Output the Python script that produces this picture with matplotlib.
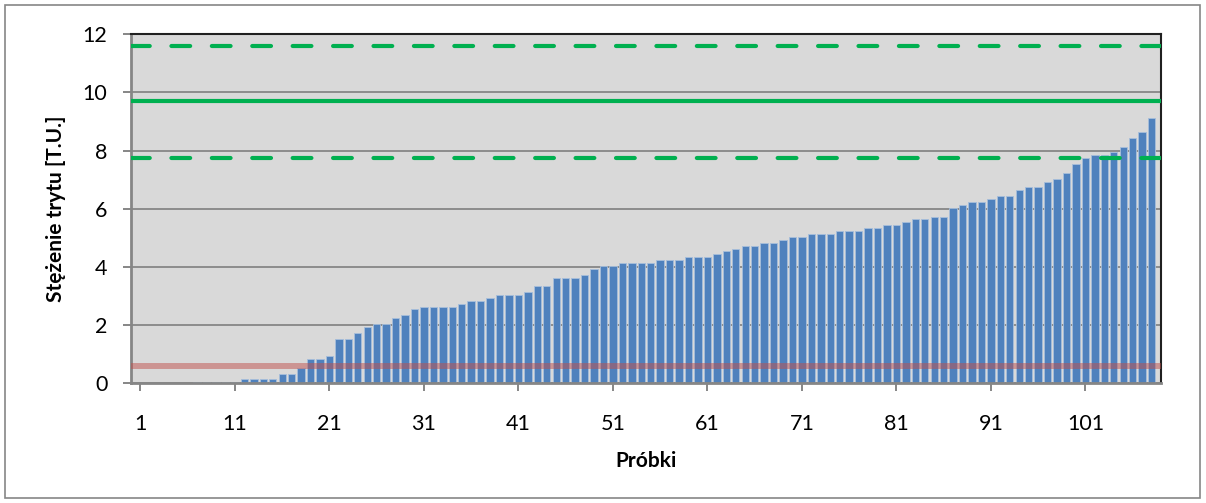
import numpy as np
import matplotlib.pyplot as plt
from matplotlib.patches import Rectangle

# tritium concentration per sample (sorted)
values = ([0.0] * 6 + [0.05] * 5 + [0.15] * 4 + [0.33] * 2 + [0.54] + [0.83] * 2 + [0.93]
          + [1.54] * 2 + [1.74, 1.94] + [2.04] * 2 + [2.24, 2.34, 2.54] + [2.64] * 4 + [2.74]
          + [2.84] * 2 + [2.94] + [3.04] * 3 + [3.14] + [3.33] * 2 + [3.63] * 3 + [3.73, 3.93]
          + [4.03] * 2 + [4.14] * 4 + [4.23] * 3 + [4.33] * 3 + [4.43, 4.54, 4.63]
          + [4.73] * 2 + [4.84] * 2 + [4.93] + [5.03] * 2 + [5.13] * 3 + [5.23] * 3
          + [5.33] * 2 + [5.43] * 2 + [5.54] + [5.64] * 2 + [5.73] * 2 + [6.04, 6.13]
          + [6.23] * 2 + [6.34] + [6.43] * 2 + [6.64] + [6.74] * 2 + [6.93, 7.03, 7.24, 7.54, 7.74]
          + [7.84] * 2 + [7.94, 8.14, 8.44, 8.64, 9.13])
samples = np.arange(1, len(values) + 1)

mean_level = 9.72
upper_level = 11.6
lower_level = 7.75
detection_limit = 0.58

x_ticks = list(range(1, 102, 10))
y_ticks = [0, 2, 4, 6, 8, 10, 12]

plt.rcParams['font.family'] = ['Lato', 'DejaVu Sans']
plt.rcParams['lines.scale_dashes'] = False

fig = plt.figure(figsize=(12.06, 5.03), dpi=100)
fig.patches.append(Rectangle((0.004, 0.01), 0.991, 0.98, transform=fig.transFigure,
                             fill=False, edgecolor='#868686', linewidth=1.2))

ax = fig.add_axes([131 / 1206, 1 - 383.3 / 503, 1030 / 1206, 349 / 503])
ax.set_facecolor('#D9D9D9')

ax.bar(samples, values, width=0.78, color='#4F81BD', edgecolor='#A7BEDB', linewidth=0.6, zorder=2)

ax.axhline(mean_level, color='#00B050', linewidth=3, zorder=3)
for lvl in (upper_level, lower_level):
    ax.axhline(lvl, color='#00B050', linewidth=3, linestyle=(0, (13.5, 15.6)),
               dash_capstyle='round', zorder=3)
ax.axhline(detection_limit, color='#C0504D', alpha=0.5, linewidth=4.3, zorder=4)

ax.set_xlim(0, 109)
ax.set_ylim(0, 12)
ax.set_xticks(x_ticks)
ax.set_yticks(y_ticks)
ax.yaxis.grid(True, color='#868686', linewidth=1.3, zorder=0)
ax.set_axisbelow(True)

for side in ('left', 'bottom'):
    ax.spines[side].set_color('#868686')
    ax.spines[side].set_linewidth(2)
for side in ('top', 'right'):
    ax.spines[side].set_color('#202020')
    ax.spines[side].set_linewidth(1.5)

ax.tick_params(axis='y', direction='out', length=6, width=1.4, color='#868686',
               labelsize=15.5, pad=11)
ax.tick_params(axis='x', direction='out', length=6, width=1.4, color='#868686',
               labelsize=15.5, pad=16)

ax.set_xlabel('Próbki', fontsize=15, fontweight='bold', labelpad=12)
ax.set_ylabel('Stężenie trytu [T.U.]', fontsize=15, fontweight='bold', labelpad=12)

fig.savefig('out.png', dpi=100)
